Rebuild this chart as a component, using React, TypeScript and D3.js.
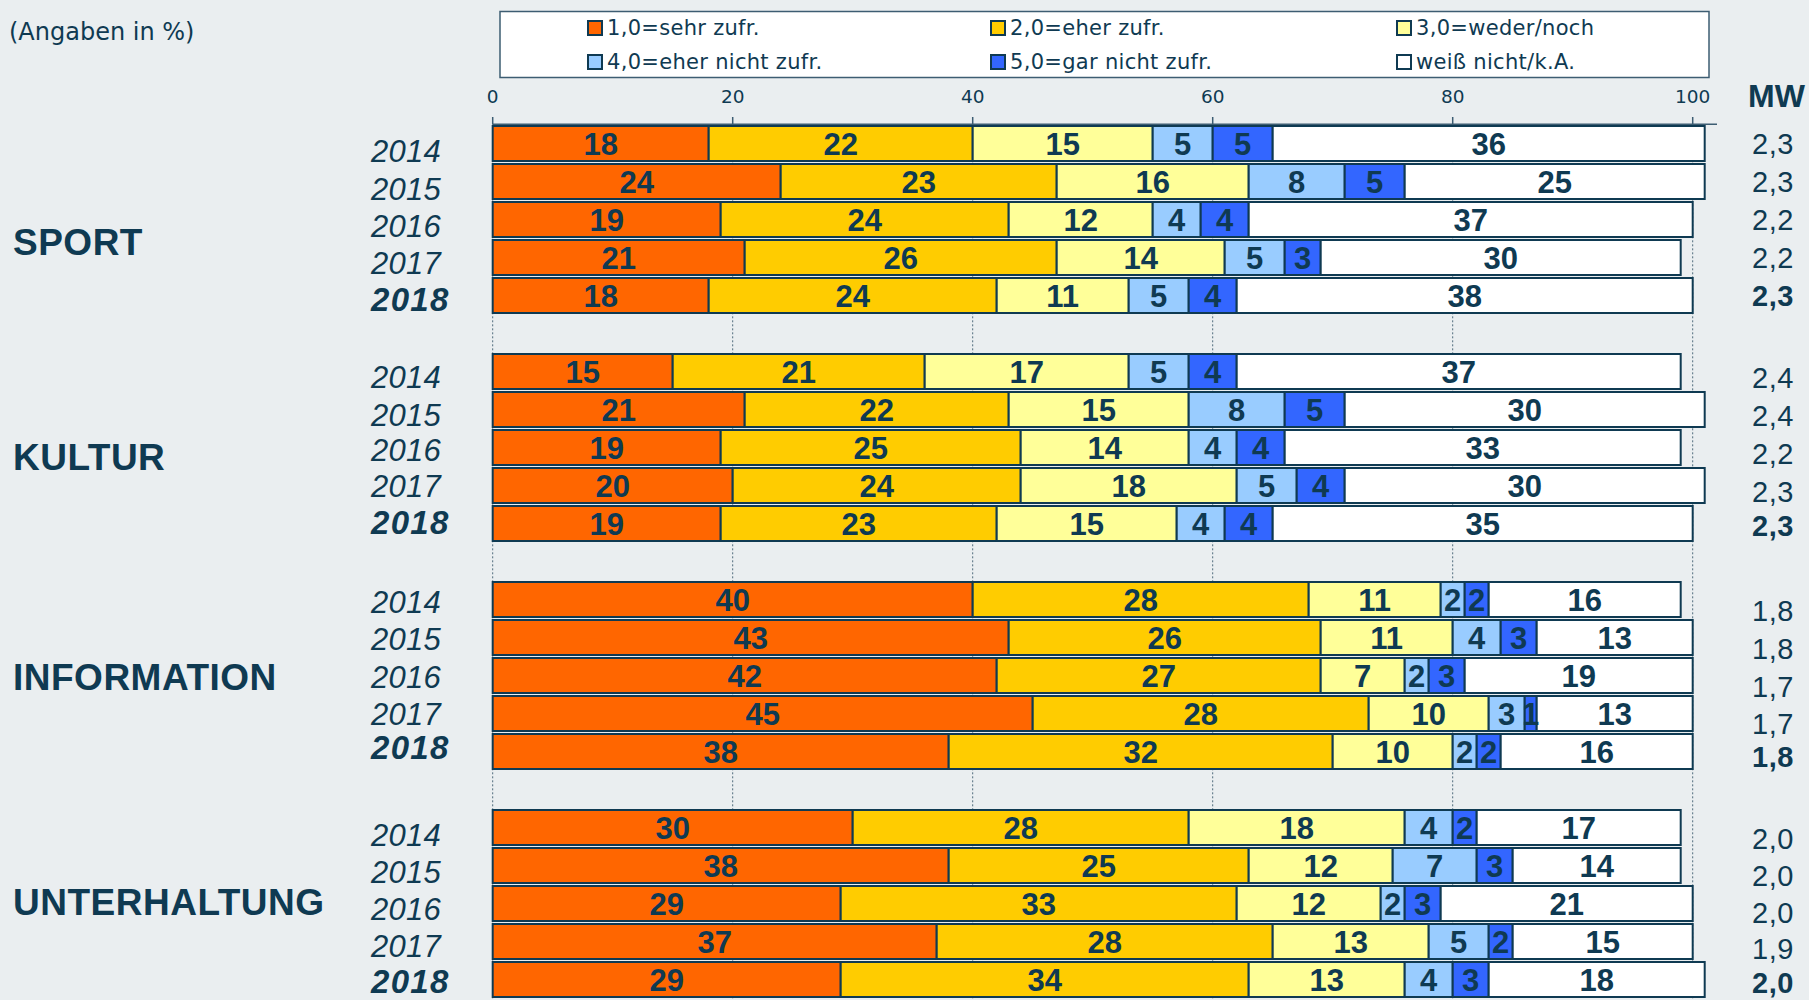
import React from 'react';
import * as d3 from 'd3';

const categories = ['SPORT', 'KULTUR', 'INFORMATION', 'UNTERHALTUNG'];
const years = ['2014', '2015', '2016', '2017', '2018'];
const seriesNames = [
  '1,0=sehr zufr.',
  '2,0=eher zufr.',
  '3,0=weder/noch',
  '4,0=eher nicht zufr.',
  '5,0=gar nicht zufr.',
  'weiß nicht/k.A.',
];
const seriesColors = ['#FF6600', '#FFCC00', '#FFFF99', '#99CCFF', '#3366FF', '#FFFFFF'];

const sportValues = [
  [18, 22, 15, 5, 5, 36],
  [24, 23, 16, 8, 5, 25],
  [19, 24, 12, 4, 4, 37],
  [21, 26, 14, 5, 3, 30],
  [18, 24, 11, 5, 4, 38],
];
const kulturValues = [
  [15, 21, 17, 5, 4, 37],
  [21, 22, 15, 8, 5, 30],
  [19, 25, 14, 4, 4, 33],
  [20, 24, 18, 5, 4, 30],
  [19, 23, 15, 4, 4, 35],
];
const informationValues = [
  [40, 28, 11, 2, 2, 16],
  [43, 26, 11, 4, 3, 13],
  [42, 27, 7, 2, 3, 19],
  [45, 28, 10, 3, 1, 13],
  [38, 32, 10, 2, 2, 16],
];
const unterhaltungValues = [
  [30, 28, 18, 4, 2, 17],
  [38, 25, 12, 7, 3, 14],
  [29, 33, 12, 2, 3, 21],
  [37, 28, 13, 5, 2, 15],
  [29, 34, 13, 4, 3, 18],
];
const groupValues = [sportValues, kulturValues, informationValues, unterhaltungValues];

const sportMW = ['2,3', '2,3', '2,2', '2,2', '2,3'];
const kulturMW = ['2,4', '2,4', '2,2', '2,3', '2,3'];
const informationMW = ['1,8', '1,8', '1,7', '1,7', '1,8'];
const unterhaltungMW = ['2,0', '2,0', '2,0', '1,9', '2,0'];
const groupMW = [sportMW, kulturMW, informationMW, unterhaltungMW];

const xTicks = [0, 20, 40, 60, 80, 100];

// layout constants
const W = 1809;
const H = 1000;
const NAVY = '#0f3a52';
const BG = '#EAEEF0';
const SANS = '"Liberation Sans", Arial, sans-serif';
const VERD = '"DejaVu Sans", Verdana, sans-serif';
const catLabelOffset = [23, 10, 2, -1];
const yearOffsets = [
  [8, 8, 7, 6, 4],
  [6, 6, 3, 1, -1],
  [3, 2, 2, 1, -4],
  [8, 7, 6, 4.5, 2],
];
const mwOffsets = [
  [0, 0, 0, 0, 0],
  [6, 6, 6, 6, 2],
  [11, 11, 11, 10, 5],
  [11, 10, 9, 7, 3],
];

export default function App() {
  const x = d3.scaleLinear().domain([0, 100]).range([492.7, 1692.7]);
  const slots = d3.range(23);
  const y = d3.scaleBand<number>().domain(slots).range([125, 125 + 23 * 38]).padding(0);
  const bh = y.bandwidth() - 1; // visual bar height

  const rows: any[] = [];
  groupValues.forEach((vals, g) => {
    vals.forEach((row, i) => {
      const slot = g * 6 + i;
      let acc = 0;
      const segs = row.map((v, s) => {
        const seg = { v, s, x0: acc, x1: acc + v };
        acc += v;
        return seg;
      });
      rows.push({ g, i, slot, segs });
    });
  });

  const axisY = 124.3;

  return (
    <svg
      width={W}
      height={H}
      style={{ position: 'absolute', left: 0, top: 0, display: 'block' }}
      xmlns="http://www.w3.org/2000/svg"
    >
      <rect x={0} y={0} width={W} height={H} fill={BG} />

      {/* note */}
      <text x={9} y={32} fontFamily={VERD} fontSize={24} fill={NAVY} dominantBaseline="central">
        (Angaben in %)
      </text>

      {/* legend */}
      <rect x={500} y={11.5} width={1209} height={66} fill="#FFFFFF" stroke="#3d5d72" strokeWidth={1.5} />
      {seriesNames.map((name, i) => {
        const colX = [588, 991, 1397][i % 3];
        const rowY = [28, 62][Math.floor(i / 3)];
        return (
          <g key={name}>
            <rect x={colX} y={rowY - 7} width={14} height={14} fill={seriesColors[i]} stroke={NAVY} strokeWidth={2} />
            <text x={colX + 19} y={rowY} fontFamily={VERD} fontSize={21} letterSpacing={0.3} fill={NAVY} dominantBaseline="central">
              {name}
            </text>
          </g>
        );
      })}

      {/* gridlines */}
      {xTicks.map((t) => (
        <line
          key={'g' + t}
          x1={x(t)}
          x2={x(t)}
          y1={axisY}
          y2={H}
          stroke="#4f6b7c"
          strokeWidth={1}
          strokeDasharray="2,2"
        />
      ))}

      {/* axis */}
      <line x1={x(0)} x2={1717} y1={axisY} y2={axisY} stroke="#3d5d72" strokeWidth={1.5} />
      {xTicks.map((t) => (
        <g key={'t' + t}>
          <line x1={x(t)} x2={x(t)} y1={117} y2={axisY} stroke="#3d5d72" strokeWidth={1.5} />
          <text x={x(t)} y={96} fontFamily={VERD} fontSize={18.5} fill={NAVY} textAnchor="middle" dominantBaseline="central">
            {t}
          </text>
        </g>
      ))}
      <text x={1748} y={96} fontFamily={SANS} fontWeight="bold" fontSize={32} fill={NAVY} dominantBaseline="central">
        MW
      </text>

      {/* bars */}
      {rows.map((r) => {
        const top = y(r.slot)!;
        const cy = top + bh / 2;
        return (
          <g key={'r' + r.slot}>
            {r.segs.map((sg: any) => (
              <rect
                key={sg.s}
                x={x(sg.x0)}
                y={top + 1}
                width={x(sg.x1) - x(sg.x0)}
                height={bh - 2}
                fill={seriesColors[sg.s]}
                stroke={NAVY}
                strokeWidth={2}
              />
            ))}
            {r.segs.map((sg: any) => (
              <text
                key={'l' + sg.s}
                x={(x(sg.x0) + x(sg.x1)) / 2}
                y={cy + 1}
                fontFamily={SANS}
                fontWeight="bold"
                fontSize={31}
                fill={NAVY}
                textAnchor="middle"
                dominantBaseline="central"
              >
                {sg.v}
              </text>
            ))}
          </g>
        );
      })}

      {/* year labels */}
      {rows.map((r) => {
        const top = y(r.slot)!;
        const cy = top + bh / 2;
        const last = r.i === years.length - 1;
        return (
          <text
            key={'y' + r.slot}
            x={371}
            y={cy + yearOffsets[r.g][r.i]}
            fontFamily={SANS}
            fontStyle="italic"
            fontWeight={last ? 'bold' : 'normal'}
            fontSize={last ? 33 : 31}
            letterSpacing={last ? 1.3 : 0.3}
            fill={NAVY}
            dominantBaseline="central"
          >
            {years[r.i]}
          </text>
        );
      })}

      {/* MW values */}
      {rows.map((r) => {
        const top = y(r.slot)!;
        const cy = top + bh / 2;
        const last = r.i === years.length - 1;
        return (
          <text
            key={'m' + r.slot}
            x={1752}
            y={cy + mwOffsets[r.g][r.i]}
            fontFamily={SANS}
            fontWeight={last ? 'bold' : 'normal'}
            fontSize={29}
            letterSpacing={0.5}
            fill={NAVY}
            dominantBaseline="central"
          >
            {groupMW[r.g][r.i]}
          </text>
        );
      })}

      {/* category labels */}
      {categories.map((c, g) => {
        const top = y(g * 6)!;
        const bottom = y(g * 6 + 4)! + bh;
        return (
          <text
            key={c}
            x={13}
            y={(top + bottom) / 2 + catLabelOffset[g]}
            fontFamily={SANS}
            fontWeight="bold"
            fontSize={37}
            letterSpacing={0.5}
            fill={NAVY}
            dominantBaseline="central"
          >
            {c}
          </text>
        );
      })}
    </svg>
  );
}
